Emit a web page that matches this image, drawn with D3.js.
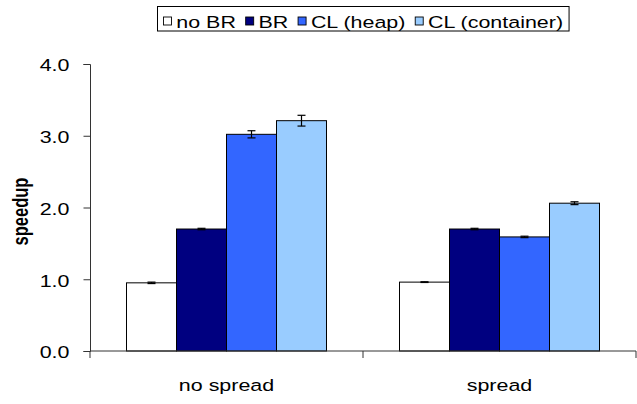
<!DOCTYPE html>
<html><head><meta charset="utf-8">
<script src="https://cdn.jsdelivr.net/npm/d3@7"></script>
<style>body{margin:0;background:#fff}svg{display:block;font-family:"Liberation Sans",Arial,sans-serif}</style>
</head><body><svg id="c" width="637" height="404"></svg>
<script>
const categories = ["no spread", "spread"];
const seriesNames = ["no BR", "BR", "CL (heap)", "CL (container)"];
const seriesColors = ["#ffffff", "#000080", "#3366ff", "#99ccff"];
const noBR = [0.95, 0.96];
const BR = [1.70, 1.70];
const clHeap = [3.02, 1.59];
const clContainer = [3.21, 2.06];
const errNoBR = [0.01, 0.005];
const errBR = [0.01, 0.01];
const errHeap = [0.05, 0.01];
const errContainer = [0.075, 0.02];
const yTicks = [0, 1, 2, 3, 4];

const values = [noBR, BR, clHeap, clContainer];
const errors = [errNoBR, errBR, errHeap, errContainer];

const FS = 16.5;      // font size
const SX = 1.3;       // horizontal stretch of the original picture's text

const svg = d3.select("#c");
const x0 = d3.scaleBand().domain(categories).range([90, 636]).padding(0);
const x1 = d3.scaleBand().domain(seriesNames).range([0, x0.bandwidth()]).paddingInner(0).paddingOuter(0.73);
const y = d3.scaleLinear().domain([0, 4]).range([351, 64]);

const data = [];
categories.forEach((c, ci) => seriesNames.forEach((s, si) => data.push({c, s, si, v: values[si][ci], e: errors[si][ci]})));

// bars
svg.append("g").selectAll("rect").data(data).join("rect")
  .attr("x", d => x0(d.c) + x1(d.s))
  .attr("y", d => y(d.v))
  .attr("width", x1.bandwidth())
  .attr("height", d => y(0) - y(d.v))
  .attr("fill", d => seriesColors[d.si])
  .attr("stroke", "#000").attr("stroke-width", 1);

// error bars
const eg = svg.append("g").attr("stroke", "#000").attr("stroke-width", 1.2);
data.forEach(d => {
  const cx = x0(d.c) + x1(d.s) + x1.bandwidth() / 2;
  eg.append("line").attr("x1", cx).attr("x2", cx).attr("y1", y(d.v + d.e)).attr("y2", y(d.v - d.e));
  eg.append("line").attr("x1", cx - 4).attr("x2", cx + 4).attr("y1", y(d.v + d.e)).attr("y2", y(d.v + d.e));
  eg.append("line").attr("x1", cx - 4).attr("x2", cx + 4).attr("y1", y(d.v - d.e)).attr("y2", y(d.v - d.e));
});

// y axis
const yAxis = svg.append("g").attr("transform", "translate(90,0)")
  .call(d3.axisLeft(y).tickValues(yTicks).tickFormat(d3.format(".1f")).tickSize(6.5));
yAxis.select(".domain").attr("stroke", "#333");
yAxis.selectAll(".tick line").attr("stroke", "#333");
yAxis.selectAll(".tick text")
  .attr("x", 0).attr("dy", "0.42em")
  .attr("transform", `translate(-20.5,0) scale(${SX},1)`)
  .attr("text-anchor", "end")
  .attr("font-size", FS).attr("fill", "#000").attr("font-family", "Liberation Sans, Arial, sans-serif");

// x axis
const xg = svg.append("g");
xg.append("line").attr("x1", 90).attr("x2", 636).attr("y1", y(0)).attr("y2", y(0)).attr("stroke", "#333");
const bounds = categories.map(c => x0(c)).concat([x0(categories[categories.length - 1]) + x0.bandwidth()]);
xg.selectAll("line.t").data(bounds).join("line").attr("class", "t")
  .attr("x1", d => d).attr("x2", d => d).attr("y1", y(0)).attr("y2", y(0) + 7).attr("stroke", "#333");
xg.selectAll("text").data(categories).join("text")
  .attr("transform", c => `translate(${x0(c) + x0.bandwidth() / 2},391) scale(${SX},1)`)
  .attr("text-anchor", "middle").attr("font-size", FS).text(c => c);

// y label
svg.append("text").attr("transform", `translate(27.5,211.5) scale(${SX},1) rotate(-90)`)
  .attr("text-anchor", "middle").attr("font-size", FS).attr("font-weight", "bold").text("speedup");

// legend
const lg = svg.append("g");
const box = lg.append("rect").attr("x", 157.5).attr("y", 6.5).attr("width", 409).attr("height", 24.5)
  .attr("fill", "#fff").attr("stroke", "#000");
let lx = 163;
seriesNames.forEach((s, i) => {
  lg.append("rect").attr("x", lx + 0.5).attr("y", 17).attr("width", 8).attr("height", 8)
    .attr("fill", seriesColors[i]).attr("stroke", "#000").attr("stroke-width", 0.9);
  const t = lg.append("text").attr("transform", `translate(${lx + 13.3},28) scale(${SX},1)`)
    .attr("font-size", FS).text(s);
  lx += 13.3 + t.node().getComputedTextLength() * SX + 9.3;
});
box.attr("width", lx - 9.3 + 6 - 157.5);
</script></body></html>
